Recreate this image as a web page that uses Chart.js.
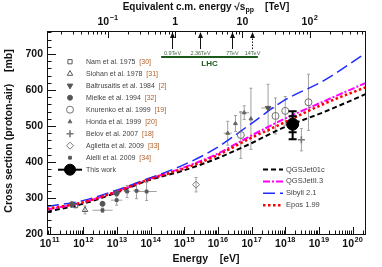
<!DOCTYPE html>
<html>
<head>
<meta charset="utf-8">
<script src="https://cdn.jsdelivr.net/npm/chart.js@4.4.1/dist/chart.umd.min.js"></script>
<style>
html, body { margin: 0; padding: 0; background: #fff; }
#wrap { width: 382px; height: 267px; }
</style>
</head>
<body>
<div id="wrap"><canvas id="xsecChart" width="382" height="267"></canvas></div>
<script>
// x values are log10(E / eV), y values are sigma(p-air) in mb

// model curves
const modelLogE = [10.92, 11.95, 12.99, 13.93, 14.93, 15.92, 16.92, 17.91, 19.18, 20.4];
const qgsjet01c = [262, 283, 315, 349, 375, 408, 449, 494, 540, 589];
const qgsjetII3 = [268, 287, 318, 352, 383, 420, 470, 517, 570, 620];
const sibyll21  = [277, 292, 322, 354, 390, 437, 502, 568, 628, 703];
const epos199   = [270, 287, 318, 351, 380, 416, 464, 507, 563, 608];

// measurements
const namLogE = [11.77], namSigma = [279], namErr = [6];
const siohanLogE = [12.05], siohanSigma = [267], siohanErr = [11];
const baltrusaitisLogE = [17.49], baltrusaitisSigma = [550], baltrusaitisErr = [66], baltrusaitisErrX = [0.2];
const mielkeLogE = [11.66, 12.57, 12.99], mielkeSigma = [283, 284, 313], mielkeErr = [5, 6, 8];
const knurenkoLogE = [16.68, 17.71, 18.0, 18.69], knurenkoSigma = [475, 528, 542, 566], knurenkoErr = [65, 50, 40, 78];
const hondaLogE = [16.29, 16.52, 16.78, 16.98], hondaSigma = [480, 507, 537, 520], hondaErr = [33, 22, 19, 85], hondaErrX = [0.12, 0.05, 0.15, 0];
const belovLogE = [18.48], belovSigma = [462], belovErr = [31];
const agliettaLogE = [15.35], agliettaSigma = [337], agliettaErr = [20];
const aielliLogE = [12.57, 12.99, 13.30, 13.58, 13.88], aielliSigma = [266, 294, 318, 320, 318];
const aielliErr = [6, 14, 17, 22, 25], aielliErrX = [0.3, 0.17, 0.1, 0.1, 0.3];
const thisWorkLogE = [18.22], thisWorkSigma = [505];
const thisWorkStat = [22], thisWorkTotUp = [36], thisWorkTotDown = [42];

// axis labels
const yTicks = [200, 300, 400, 500, 600, 700];
const xDecades = [11, 12, 13, 14, 15, 16, 17, 18, 19, 20];
const topDecades = [-1, 0, 1, 2];
const lhcEnergies = [0.9, 2.36, 7, 14];   // TeV
const lhcLabels = ['0.9TeV', '2.36TeV', '7TeV', '14TeV'];
const lhcBand = [0.62, 17];

const FONT = '"Liberation Sans", Arial, sans-serif';
const MP = 0.938e9; // proton mass, eV

function sqrtsToLogE(tev) {
    return Math.log10(Math.pow(tev * 1e12, 2) / (2 * MP));
}

function pts(xs, ys) {
    return xs.map((v, i) => ({ x: v, y: ys[i] }));
}

function dataSet(label, cite, xs, ys, style) {
    return Object.assign({
        type: 'scatter',
        label: label,
        cite: cite,
        data: pts(xs, ys),
        borderColor: '#5a5a5a',
        backgroundColor: 'rgba(255,255,255,0)',
        borderWidth: 1,
        pointRadius: 3,
        pointHoverRadius: 3
    }, style);
}

function modelSet(label, ys, color, width, dash) {
    return {
        type: 'line',
        label: label,
        data: pts(modelLogE, ys),
        borderColor: color,
        borderWidth: width,
        borderDash: dash,
        pointRadius: 0,
        fill: false,
        cubicInterpolationMode: 'monotone'
    };
}

const datasets = [
    dataSet('This work', '', thisWorkLogE, thisWorkSigma, {
        pointStyle: 'circle', pointRadius: 6, backgroundColor: '#000', borderColor: '#000',
        errStat: thisWorkStat, errUp: thisWorkTotUp, errDown: thisWorkTotDown, thisWork: true
    }),
    dataSet('Nam et al. 1975', '[30]', namLogE, namSigma, { pointStyle: 'rect', pointRadius: 3, errY: namErr, legendRow: 0 }),
    dataSet('Siohan et al. 1978', '[31]', siohanLogE, siohanSigma, { pointStyle: 'triangle', pointRadius: 3.2, errY: siohanErr, legendRow: 1 }),
    dataSet('Baltrusaitis et al. 1984', '[2]', baltrusaitisLogE, baltrusaitisSigma, {
        pointStyle: 'triangle', rotation: 180, pointRadius: 3.2, backgroundColor: '#555', errY: baltrusaitisErr, errX: baltrusaitisErrX, legendRow: 2
    }),
    dataSet('Mielke et al. 1994', '[32]', mielkeLogE, mielkeSigma, { pointStyle: 'circle', pointRadius: 2.5, backgroundColor: '#555', errY: mielkeErr, legendRow: 3 }),
    dataSet('Knurenko et al. 1999', '[19]', knurenkoLogE, knurenkoSigma, { pointStyle: 'circle', pointRadius: 3.5, borderColor: '#707070', errY: knurenkoErr, legendRow: 4 }),
    dataSet('Honda et al. 1999', '[20]', hondaLogE, hondaSigma, {
        pointStyle: 'triangle', pointRadius: 2.2, backgroundColor: '#666', borderColor: '#666', errY: hondaErr, errX: hondaErrX, legendRow: 5
    }),
    dataSet('Belov et al. 2007', '[18]', belovLogE, belovSigma, { pointStyle: 'cross', pointRadius: 3.5, borderWidth: 1.6, borderColor: '#777', errY: belovErr, legendRow: 6 }),
    dataSet('Aglietta et al. 2009', '[33]', agliettaLogE, agliettaSigma, { pointStyle: 'rectRot', pointRadius: 3.5, borderColor: '#777', errY: agliettaErr, legendRow: 7 }),
    dataSet('Aielli et al. 2009', '[34]', aielliLogE, aielliSigma, {
        pointStyle: 'rect', pointRadius: 2, backgroundColor: '#555', errY: aielliErr, errX: aielliErrX, legendRow: 8
    }),
    modelSet('Epos 1.99', epos199, '#ff0000', 2.5, [2.5, 2.5]),
    modelSet('Sibyll 2.1', sibyll21, '#1f2bff', 1.5, [12, 5]),
    modelSet('QGSJetII.3', qgsjetII3, '#ff00ff', 2, [7, 2, 2, 2]),
    modelSet('QGSJet01c', qgsjet01c, '#000000', 2, [5, 3])
];

function drawBars(chart, onTop) {
    const ctx = chart.ctx, x = chart.scales.x, y = chart.scales.y;
    ctx.save();
    chart.data.datasets.forEach(ds => {
        if (!!ds.thisWork !== onTop) return;
        ds.data.forEach((p, j) => {
            const px = x.getPixelForValue(p.x), py = y.getPixelForValue(p.y);
            if (ds.thisWork) {
                const yU = y.getPixelForValue(p.y + ds.errUp[j]);
                const yD = y.getPixelForValue(p.y - ds.errDown[j]);
                const sU = y.getPixelForValue(p.y + ds.errStat[j]);
                const sD = y.getPixelForValue(p.y - ds.errStat[j]);
                ctx.strokeStyle = '#000';
                ctx.lineWidth = 2;
                ctx.beginPath();
                ctx.moveTo(px, yU); ctx.lineTo(px, yD);
                [yU, yD, sU, sD].forEach(v => { ctx.moveTo(px - 4, v); ctx.lineTo(px + 4, v); });
                ctx.stroke();
                return;
            }
            ctx.strokeStyle = '#a0a0a0';
            ctx.lineWidth = 1;
            ctx.beginPath();
            if (ds.errY) {
                const t = y.getPixelForValue(p.y + ds.errY[j]);
                const b = y.getPixelForValue(p.y - ds.errY[j]);
                ctx.moveTo(px, t); ctx.lineTo(px, b);
                ctx.moveTo(px - 1.5, t); ctx.lineTo(px + 1.5, t);
                ctx.moveTo(px - 1.5, b); ctx.lineTo(px + 1.5, b);
            }
            if (ds.errX && ds.errX[j]) {
                const l = x.getPixelForValue(p.x - ds.errX[j]);
                const r = x.getPixelForValue(p.x + ds.errX[j]);
                ctx.moveTo(l, py); ctx.lineTo(r, py);
            }
            ctx.stroke();
        });
    });
    ctx.restore();
}

function supLabel(ctx, base, exp, cx, cy, size) {
    ctx.font = 'bold ' + size + 'px ' + FONT;
    const wb = ctx.measureText(base).width;
    ctx.font = 'bold ' + (size * 0.7) + 'px ' + FONT;
    const we = exp ? ctx.measureText(exp).width + 0.5 : 0;
    const left = cx - (wb + we) / 2;
    ctx.textAlign = 'left';
    ctx.textBaseline = 'middle';
    ctx.font = 'bold ' + size + 'px ' + FONT;
    ctx.fillText(base, left, cy);
    if (exp) {
        ctx.font = 'bold ' + (size * 0.7) + 'px ' + FONT;
        ctx.fillText(exp, left + wb + 0.5, cy - size * 0.42);
    }
}

function marker(ctx, ds, px, py) {
    ctx.fillStyle = ds.backgroundColor;
    ctx.strokeStyle = ds.borderColor;
    ctx.lineWidth = ds.borderWidth;
    Chart.helpers.drawPoint(ctx, {
        pointStyle: ds.pointStyle, radius: ds.pointRadius, rotation: ds.rotation || 0, borderWidth: ds.borderWidth
    }, px, py);
}

const decorations = {
    id: 'decorations',
    beforeDatasetsDraw(chart) { drawBars(chart, false); },
    afterDatasetsDraw(chart) { drawBars(chart, true); },
    afterDraw(chart) {
        const ctx = chart.ctx, x = chart.scales.x, y = chart.scales.y, a = chart.chartArea;
        ctx.save();

        // frame
        ctx.strokeStyle = '#111';
        ctx.lineWidth = 1;
        ctx.strokeRect(a.left + 0.5, a.top + 0.5, a.right - a.left - 1, a.bottom - a.top);

        // ticks
        ctx.beginPath();
        for (let n = 10; n <= 21; n++) {
            for (let m = 1; m <= 9; m++) {
                const v = n + Math.log10(m);
                if (v < x.min || v > x.max) continue;
                const px = Math.round(x.getPixelForValue(v)) + 0.5;
                const len = m === 1 ? 7 : 3.5;
                ctx.moveTo(px, a.bottom); ctx.lineTo(px, a.bottom - len);
            }
        }
        for (let k = -3; k <= 3; k++) {
            for (let m = 1; m <= 9; m++) {
                const v = sqrtsToLogE(m * Math.pow(10, k));
                if (v < x.min || v > x.max) continue;
                const px = Math.round(x.getPixelForValue(v)) + 0.5;
                const len = m === 1 ? 7 : 3.5;
                ctx.moveTo(px, a.top); ctx.lineTo(px, a.top + len);
            }
        }
        for (let s = 200; s <= y.max; s += 20) {
            const py = Math.round(y.getPixelForValue(s)) + 0.5;
            const len = s % 100 === 0 ? 9 : 4.5;
            ctx.moveTo(a.left, py); ctx.lineTo(a.left + len, py);
        }
        ctx.stroke();

        // tick labels
        ctx.fillStyle = '#111';
        xDecades.forEach(n => supLabel(ctx, '10', String(n), x.getPixelForValue(n), 244, 10.5));
        topDecades.forEach(k => {
            const px = x.getPixelForValue(sqrtsToLogE(Math.pow(10, k)));
            if (k === 0) supLabel(ctx, '1', '', px, 22, 10.5);
            else if (k === 1) supLabel(ctx, '10', '', px, 22, 10.5);
            else supLabel(ctx, '10', k < 0 ? '\u2212' + (-k) : String(k), px, 22, 10.5);
        });
        ctx.font = 'bold 10.5px ' + FONT;
        ctx.textAlign = 'right';
        ctx.textBaseline = 'middle';
        yTicks.forEach(s => ctx.fillText(String(s), a.left - 4, y.getPixelForValue(s)));

        // axis titles
        ctx.font = 'bold 10.5px ' + FONT;
        ctx.textAlign = 'center';
        ctx.fillText('Energy    [eV]', 206, 259);
        ctx.save();
        ctx.translate(9, 131);
        ctx.rotate(-Math.PI / 2);
        ctx.fillText('Cross section (proton-air)    [mb]', 0, 0);
        ctx.restore();
        const t1 = 'Equivalent c.m. energy \u221As', t2 = 'pp', t3 = '    [TeV]';
        ctx.font = 'bold 10px ' + FONT;
        const w1 = ctx.measureText(t1).width, w3 = ctx.measureText(t3).width;
        ctx.font = 'bold 7px ' + FONT;
        const w2 = ctx.measureText(t2).width;
        let tx = 206 - (w1 + w2 + w3) / 2;
        ctx.textAlign = 'left';
        ctx.font = 'bold 10px ' + FONT;
        ctx.fillText(t1, tx, 7);
        ctx.font = 'bold 7px ' + FONT;
        ctx.fillText(t2, tx + w1, 10);
        ctx.font = 'bold 10px ' + FONT;
        ctx.fillText(t3, tx + w1 + w2, 7);

        // LHC arrows
        lhcEnergies.forEach((e, i) => {
            const px = Math.round(x.getPixelForValue(sqrtsToLogE(e))) + 0.5;
            ctx.strokeStyle = '#111';
            ctx.lineWidth = 1;
            ctx.setLineDash(e === 14 ? [1.5, 1.5] : []);
            ctx.beginPath();
            ctx.moveTo(px, 49); ctx.lineTo(px, 36);
            ctx.stroke();
            ctx.setLineDash([]);
            ctx.fillStyle = '#111';
            ctx.beginPath();
            ctx.moveTo(px, 32); ctx.lineTo(px - 2.5, 38); ctx.lineTo(px + 2.5, 38); ctx.closePath();
            ctx.fill();
            ctx.fillStyle = '#4a6a4a';
            ctx.font = '5.5px ' + FONT;
            ctx.textAlign = 'center';
            ctx.fillText(lhcLabels[i], px, 53);
        });
        const l0 = x.getPixelForValue(sqrtsToLogE(lhcBand[0])), l1 = x.getPixelForValue(sqrtsToLogE(lhcBand[1]));
        ctx.strokeStyle = '#1c5a1c';
        ctx.lineWidth = 2;
        ctx.beginPath();
        ctx.moveTo(l0, 57); ctx.lineTo(l1, 57);
        ctx.stroke();
        ctx.fillStyle = '#1c5a1c';
        ctx.font = 'bold 8px ' + FONT;
        ctx.fillText('LHC', (l0 + l1) / 2, 64);

        // data legend
        ctx.textAlign = 'left';
        chart.data.datasets.forEach(ds => {
            if (ds.legendRow === undefined) return;
            const ly = 61.7 + 12 * ds.legendRow;
            marker(ctx, ds, 70, ly);
            ctx.font = '7px ' + FONT;
            ctx.fillStyle = '#444';
            const txt = ds.label + '  ';
            ctx.fillText(txt, 86, ly);
            ctx.fillStyle = '#b0602a';
            ctx.fillText(ds.cite, 86 + ctx.measureText(txt).width, ly);
        });
        const tw = chart.data.datasets[0];
        ctx.strokeStyle = '#000';
        ctx.lineWidth = 2;
        ctx.beginPath();
        ctx.moveTo(58, 169.7); ctx.lineTo(82, 169.7);
        ctx.stroke();
        marker(ctx, Object.assign({}, tw, { pointRadius: 5.5 }), 70, 169.7);
        ctx.fillStyle = '#444';
        ctx.font = '7px ' + FONT;
        ctx.fillText(tw.label, 86, 169.7);

        // model legend
        const models = ['QGSJet01c', 'QGSJetII.3', 'Sibyll 2.1', 'Epos 1.99'];
        models.forEach((name, i) => {
            const ds = chart.data.datasets.find(d => d.label === name);
            const ly = 169.5 + 11.9 * i;
            ctx.strokeStyle = ds.borderColor;
            ctx.lineWidth = ds.borderWidth;
            ctx.setLineDash(ds.borderDash);
            ctx.beginPath();
            ctx.moveTo(263, ly); ctx.lineTo(283, ly);
            ctx.stroke();
            ctx.setLineDash([]);
            ctx.fillStyle = '#444';
            ctx.font = '7.5px ' + FONT;
            ctx.fillText(name, 286, ly);
        });

        ctx.restore();
    }
};

new Chart(document.getElementById('xsecChart'), {
    type: 'scatter',
    data: { datasets: datasets },
    options: {
        responsive: false,
        animation: false,
        devicePixelRatio: 1,
        layout: { padding: { left: 47, right: 16, top: 31, bottom: 33 } },
        scales: {
            x: { type: 'linear', min: 10.92, max: 20.4, display: false },
            y: { type: 'linear', min: 200, max: 764, display: false }
        },
        plugins: { legend: { display: false }, tooltip: { enabled: false } }
    },
    plugins: [decorations]
});
</script>
</body>
</html>
